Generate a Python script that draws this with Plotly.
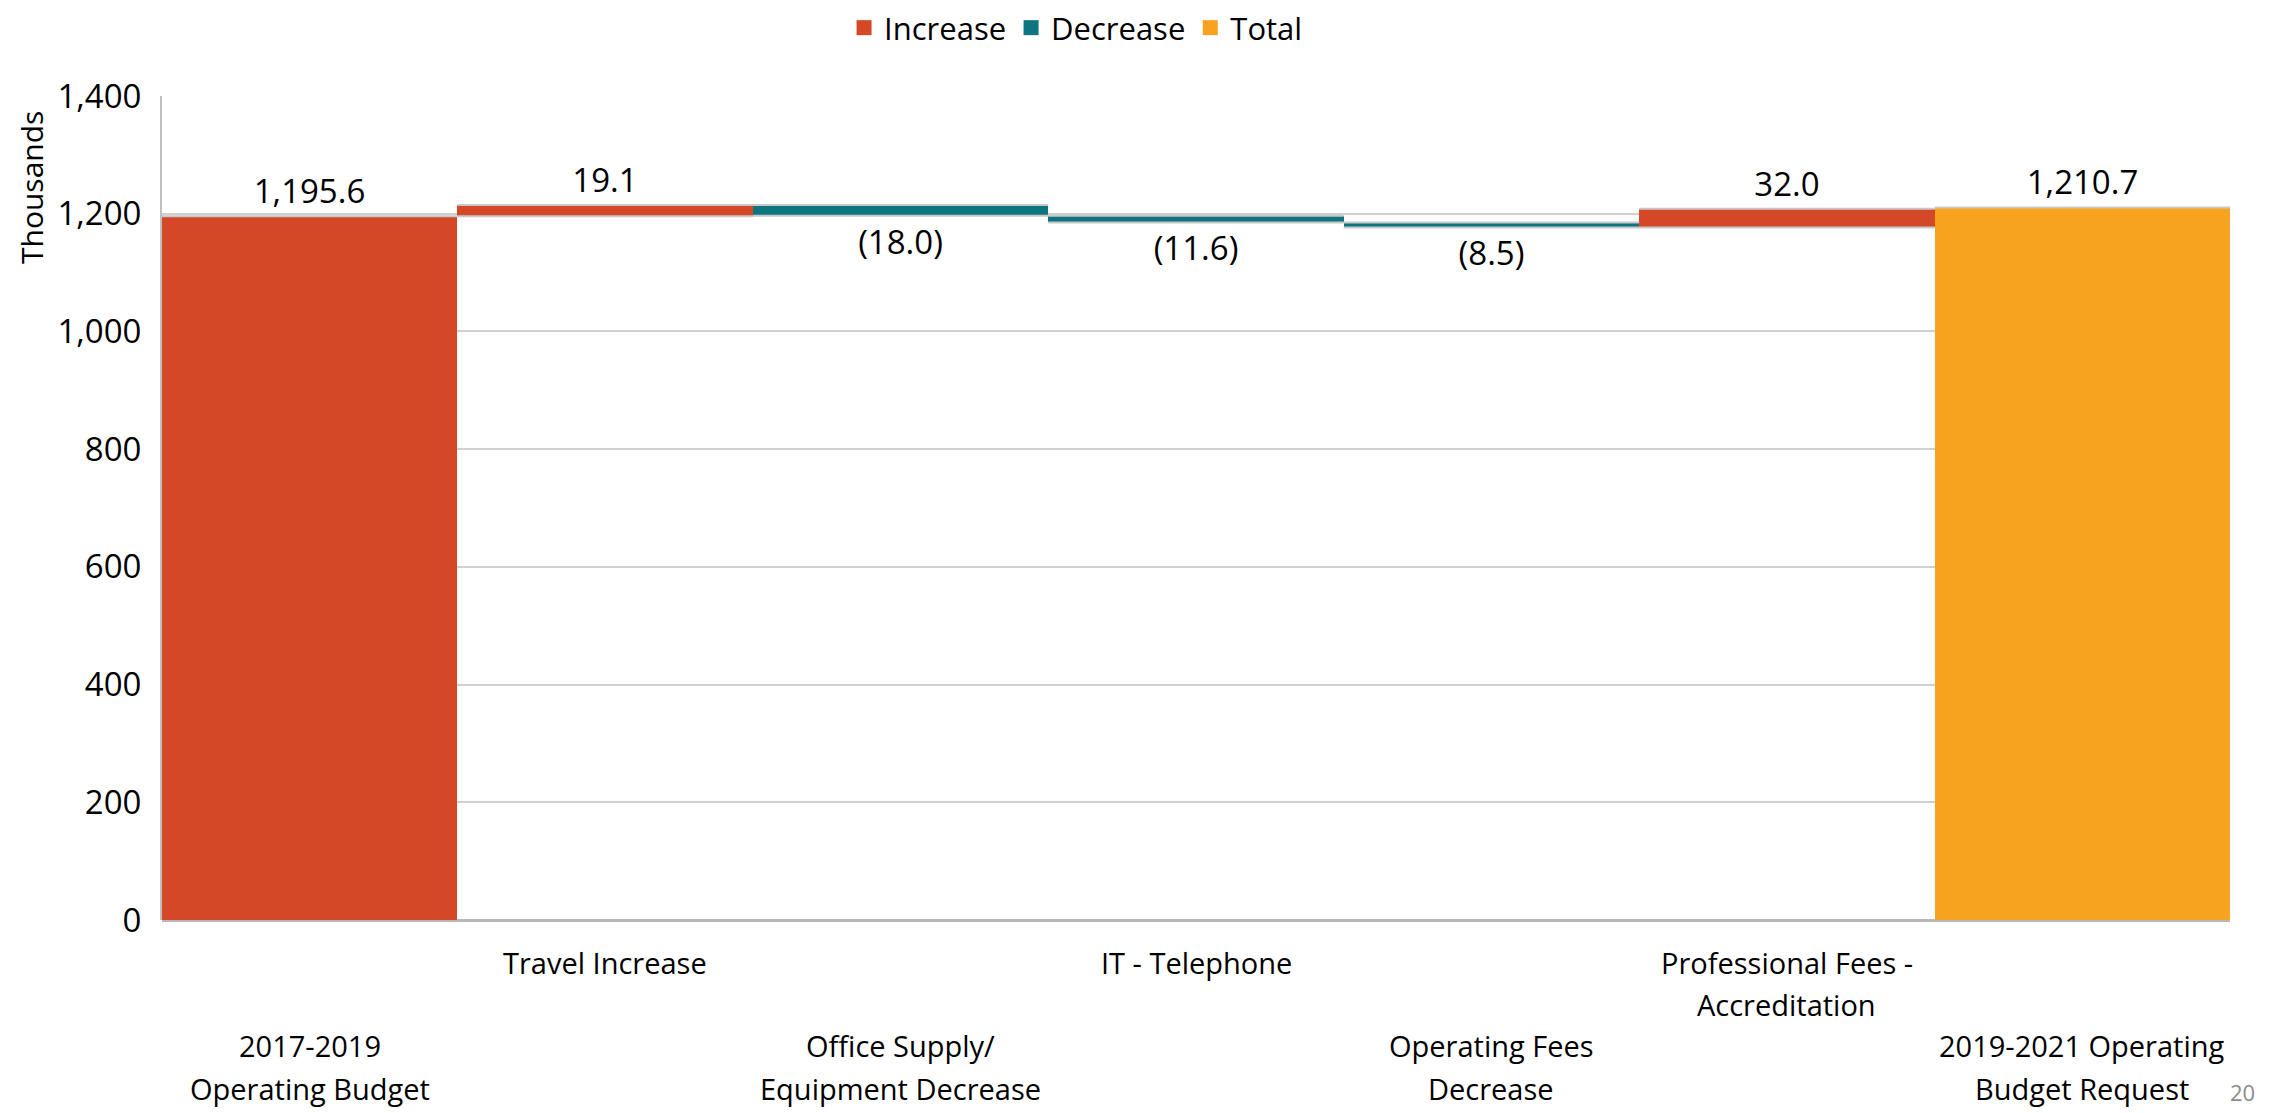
import plotly.graph_objects as go

# data
categories = [
    "2017-2019<br>Operating Budget",
    "Travel Increase",
    "Office Supply/<br>Equipment Decrease",
    "IT - Telephone",
    "Operating Fees<br>Decrease",
    "Professional Fees -<br>Accreditation",
    "2019-2021 Operating<br>Budget Request",
]
values = [1195.6, 19.1, -18.0, -11.6, -8.5, 32.0, 1210.7]
measures = ["relative", "relative", "relative", "relative", "relative", "relative", "absolute"]
legend_names = ["Increase", "Decrease", "Total"]

RED = "#D44828"
TEAL = "#0C7580"
ORANGE = "#F8A320"
FONT = "Open Sans"

# the page body adds an 8px margin, so the figure is drawn 8px smaller
OFF = 8
W, H = 2275 - OFF, 1113 - OFF
L, T = 162 - OFF, 96 - OFF
PW, PH = 2068, 824
R, B = W - L - PW, H - T - PH


def _label(v):
    return f"({abs(v):,.1f})" if v < 0 else f"{v:,.1f}"


x_idx = list(range(len(categories)))

fig = go.Figure()
fig.add_trace(go.Waterfall(
    x=x_idx,
    y=values,
    measure=measures,
    text=[_label(v) for v in values],
    textposition="outside",
    textfont=dict(size=33, color="#000000", family=FONT),
    cliponaxis=False,
    increasing=dict(marker=dict(color=RED)),
    decreasing=dict(marker=dict(color=TEAL)),
    totals=dict(marker=dict(color=ORANGE)),
    connector=dict(line=dict(color="#c8c8c8", width=2), mode="spanning"),
    showlegend=False,
    hoverinfo="skip",
))

# legend-only entries
for name, col in zip(legend_names, [RED, TEAL, ORANGE]):
    fig.add_trace(go.Scatter(
        x=[None], y=[None], mode="markers", name=name,
        marker=dict(symbol="square", size=15, color=col),
    ))

# staggered category labels like the original, one annotation per line
annotations = []
for i, lab in enumerate(categories):
    first = 125 if i % 2 == 0 else 42
    for j, line in enumerate(lab.split("<br>")):
        annotations.append(dict(
            x=i, xref="x", y=-(first + 43 * j) / PH, yref="paper",
            yanchor="middle", text=line, showarrow=False,
            font=dict(size=29, color="#000000", family=FONT),
        ))

annotations.append(dict(
    x=(32 - 162) / PW, xref="paper", y=(920 - 188) / PH, yref="paper",
    xanchor="center", yanchor="middle",
    text="Thousands", textangle=-90, showarrow=False,
    font=dict(size=30, color="#000000", family=FONT),
))
annotations.append(dict(
    x=(2242 - 162) / PW, y=-(1092 - 920) / PH, xref="paper", yref="paper",
    xanchor="center", yanchor="middle",
    text="20", showarrow=False,
    font=dict(size=22, color="#8c8c8c", family=FONT),
))

fig.update_layout(
    width=W, height=H,
    margin=dict(l=L, r=R, t=T, b=B, autoexpand=False),
    paper_bgcolor="white", plot_bgcolor="white",
    font=dict(family=FONT, color="#000000"),
    waterfallgap=0,
    annotations=annotations,
    legend=dict(
        orientation="h", x=0.442, xanchor="center",
        y=1 + 68 / PH, yanchor="middle",
        font=dict(size=31, family=FONT),
        itemwidth=30, tracegroupgap=0,
    ),
    xaxis=dict(
        range=[-0.5, 6.5], showticklabels=False, showgrid=False,
        zeroline=False, showline=False, ticks="", automargin=False,
    ),
    yaxis=dict(
        range=[0, 1400], dtick=200, tickformat=",",
        tickfont=dict(size=33, family=FONT, color="#000000"),
        showgrid=True, gridcolor="#d0d0d0", gridwidth=2,
        showline=True, linecolor="#c0c0c0", linewidth=2,
        zeroline=True, zerolinecolor="#b8b8b8", zerolinewidth=3,
        ticks="", ticklabelstandoff=12, automargin=False,
    ),
)

fig.write_html("out.html")
